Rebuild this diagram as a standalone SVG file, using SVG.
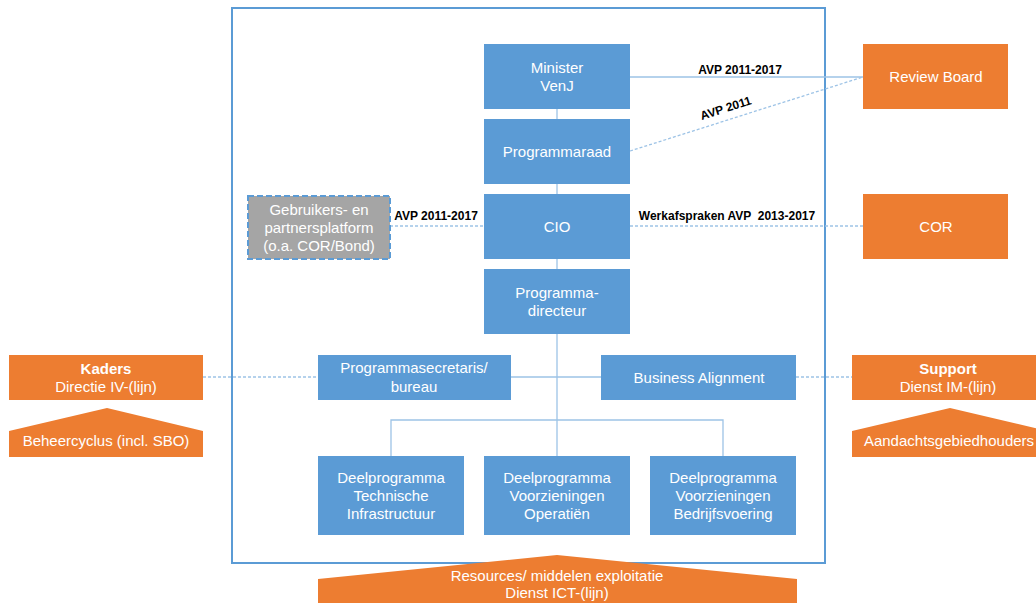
<svg xmlns="http://www.w3.org/2000/svg" width="1036" height="603" viewBox="0 0 1036 603">
<style>
.b{fill:#5B9BD5}
.o{fill:#ED7D31}
.t{font-family:"Liberation Sans",Arial,sans-serif;font-size:15px;fill:#fff;text-anchor:middle}
.tb{font-weight:bold}
.l{font-family:"Liberation Sans",Arial,sans-serif;font-size:12px;font-weight:bold;fill:#000;text-anchor:middle}
.c{stroke:#9DC3E6;stroke-width:1.3;fill:none}
.d{stroke:#9DC3E6;stroke-width:1.3;fill:none;stroke-dasharray:3 2}
</style>
<rect width="1036" height="603" fill="#fff"/>
<rect x="232" y="8" width="593" height="555" fill="none" stroke="#5B9BD5" stroke-width="2"/>
<g id="connectors">
<line class="c" x1="557" y1="109" x2="557" y2="456"/>
<line class="c" x1="630" y1="77" x2="863" y2="77"/>
<line class="d" x1="630" y1="151" x2="863" y2="77"/>
<line class="d" x1="390" y1="226" x2="484" y2="226"/>
<line class="d" x1="630" y1="226" x2="863" y2="226"/>
<line class="c" x1="511" y1="377" x2="601" y2="377"/>
<line class="d" x1="203" y1="377" x2="318" y2="377"/>
<line class="d" x1="796" y1="377" x2="852" y2="377"/>
<polyline class="c" points="391,456 391,420 723,420 723,456"/>
<text class="l" x="740" y="74">AVP 2011-2017</text>
<text class="l" x="727" y="112" transform="rotate(-17.6 727 112)">AVP 2011</text>
<text class="l" x="436" y="220">AVP 2011-2017</text>
<text class="l" x="727" y="220" xml:space="preserve">Werkafspraken AVP  2013-2017</text>
</g>
<g id="minister"><rect class="b" x="484" y="44" width="146" height="65"/><text class="t" x="557" y="73">Minister</text><text class="t" x="557" y="91">VenJ</text></g>
<g id="programmaraad"><rect class="b" x="484" y="119" width="146" height="65"/><text class="t" x="557" y="157">Programmaraad</text></g>
<g id="cio"><rect class="b" x="484" y="194" width="146" height="65"/><text class="t" x="557" y="232">CIO</text></g>
<g id="programmadirecteur"><rect class="b" x="484" y="269" width="146" height="65"/><text class="t" x="557" y="298">Programma-</text><text class="t" x="557" y="316">directeur</text></g>
<g id="secretaris"><rect class="b" x="318" y="355" width="193" height="45"/><text class="t" x="414" y="373">Programmasecretaris/</text><text class="t" x="414" y="392">bureau</text></g>
<g id="business"><rect class="b" x="601" y="355" width="195" height="45"/><text class="t" x="699" y="383">Business Alignment</text></g>
<g id="dp1"><rect class="b" x="318" y="456" width="146" height="79"/><text class="t" x="391" y="483">Deelprogramma</text><text class="t" x="391" y="501">Technische</text><text class="t" x="391" y="519">Infrastructuur</text></g>
<g id="dp2"><rect class="b" x="484" y="456" width="146" height="79"/><text class="t" x="557" y="483">Deelprogramma</text><text class="t" x="557" y="501">Voorzieningen</text><text class="t" x="557" y="519">Operatiën</text></g>
<g id="dp3"><rect class="b" x="650" y="456" width="146" height="79"/><text class="t" x="723" y="483">Deelprogramma</text><text class="t" x="723" y="501">Voorzieningen</text><text class="t" x="723" y="519">Bedrijfsvoering</text></g>
<g id="gebruikers"><rect x="248" y="196" width="142" height="63" fill="#A5A5A5" stroke="#5B9BD5" stroke-width="2" stroke-dasharray="6 3"/><text class="t" x="319" y="215">Gebruikers- en</text><text class="t" x="319" y="233">partnersplatform</text><text class="t" x="319" y="251">(o.a. COR/Bond)</text></g>
<g id="reviewboard"><rect class="o" x="863" y="44" width="145" height="65"/><text class="t" x="936" y="82">Review Board</text></g>
<g id="cor"><rect class="o" x="863" y="194" width="145" height="65"/><text class="t" x="936" y="232">COR</text></g>
<g id="kaders"><rect class="o" x="9" y="355" width="194" height="45"/><text class="t tb" x="106" y="374">Kaders</text><text class="t" x="106" y="392">Directie IV-(lijn)</text></g>
<g id="beheercyclus"><polygon class="o" points="107,408 203,431 203,457 9,457 9,431"/><text class="t" x="106" y="446">Beheercyclus (incl. SBO)</text></g>
<g id="support"><rect class="o" x="852" y="355" width="196" height="45"/><text class="t tb" x="948" y="374">Support</text><text class="t" x="948" y="392">Dienst IM-(lijn)</text></g>
<g id="aandacht"><polygon class="o" points="950,408 1048,431 1048,457 852,457 852,431"/><text class="t" x="949" y="446">Aandachtsgebiedhouders</text></g>
<g id="resources"><polygon class="o" points="557,555 797,579 797,603 318,603 318,579"/><text class="t" x="557" y="581">Resources/ middelen exploitatie</text><text class="t" x="557" y="598">Dienst ICT-(lijn)</text></g>
</svg>
